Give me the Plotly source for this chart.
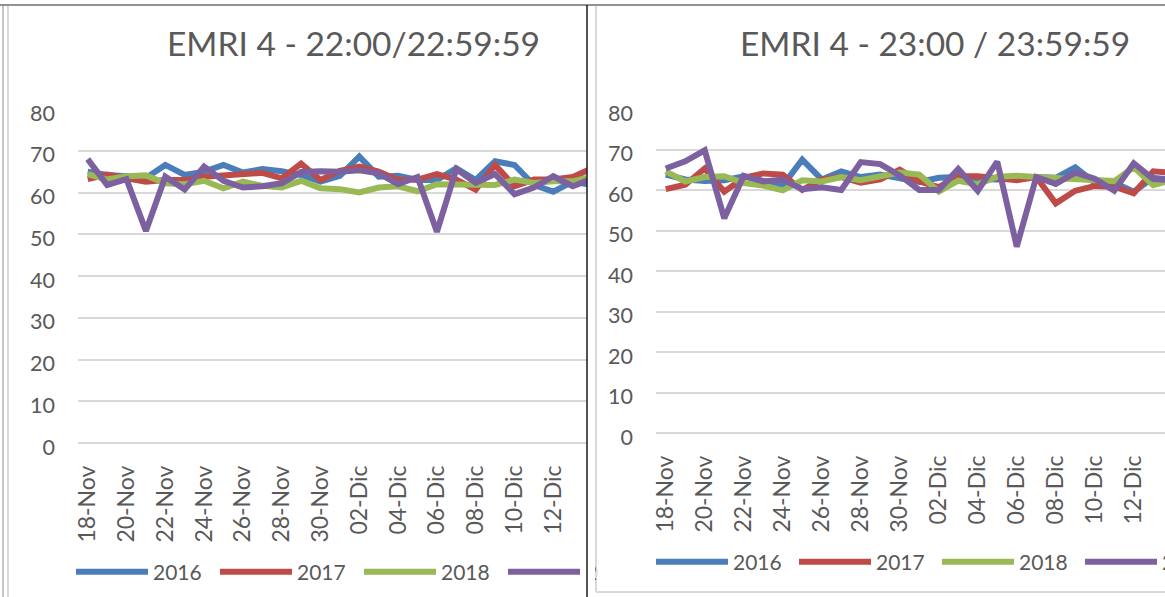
import plotly.graph_objects as go

W, H = 1165, 597

days = ["18-Nov", "19-Nov", "20-Nov", "21-Nov", "22-Nov", "23-Nov", "24-Nov", "25-Nov",
        "26-Nov", "27-Nov", "28-Nov", "29-Nov", "30-Nov", "01-Dic", "02-Dic", "03-Dic",
        "04-Dic", "05-Dic", "06-Dic", "07-Dic", "08-Dic", "09-Dic", "10-Dic", "11-Dic",
        "12-Dic", "13-Dic", "14-Dic"]
tick_labels = days[::2]
years = ["2016", "2017", "2018", "2019"]
colors = ["#4A7EBB", "#BE4B48", "#98B954", "#7D60A0"]

title_left = "EMRI 4 - 22:00/22:59:59"
title_right = "EMRI 4 - 23:00 / 23:59:59"

# 22:00 - 22:59:59
left_2016 = [65.0, 64.2, 63.9, 63.5, 66.6, 64.2, 65.0, 66.6, 64.8, 65.6, 65.1, 64.2, 62.6, 64.0,
             68.6, 63.8, 64.0, 63.0, 63.0, 65.8, 63.0, 67.5, 66.6, 61.8, 60.2, 62.6, 61.8]
left_2017 = [63.2, 64.3, 63.4, 62.6, 63.0, 63.0, 63.8, 64.2, 64.6, 64.7, 63.4, 66.9, 63.0, 65.2,
             66.2, 65.0, 63.0, 63.1, 64.4, 63.1, 60.7, 66.6, 61.5, 63.1, 63.1, 63.7, 65.8]
left_2018 = [64.4, 63.1, 63.9, 64.1, 62.2, 62.0, 62.8, 61.0, 62.6, 61.6, 61.2, 62.8, 61.0, 60.8,
             60.0, 61.2, 61.5, 60.3, 62.0, 62.0, 61.8, 61.8, 63.1, 62.3, 62.7, 62.7, 63.7]
left_2019 = [68.0, 61.8, 63.2, 50.8, 63.8, 60.7, 66.2, 62.8, 61.2, 61.5, 62.2, 64.9, 65.1, 65.0,
             65.3, 64.6, 62.0, 63.7, 50.6, 65.6, 62.3, 64.4, 59.6, 61.2, 63.9, 61.5, 63.3]

# 23:00 - 23:59:59
right_2016 = [63.8, 62.6, 62.2, 62.4, 63.4, 62.3, 61.1, 67.5, 62.6, 64.6, 63.2, 63.8, 63.0, 62.0,
              63.0, 63.2, 62.7, 62.6, 63.0, 63.2, 63.0, 65.6, 61.8, 61.8, 59.6, 63.0, 62.5]
right_2017 = [60.2, 61.3, 65.3, 59.6, 63.0, 64.1, 63.8, 60.0, 62.6, 63.2, 61.8, 62.6, 65.0, 62.1,
              60.7, 63.4, 63.4, 62.9, 62.4, 63.2, 56.7, 59.8, 61.0, 60.8, 59.2, 64.6, 64.2]
right_2018 = [64.6, 62.1, 63.2, 63.4, 61.7, 61.1, 59.9, 62.4, 62.1, 63.2, 62.4, 63.2, 64.3, 63.8,
              59.6, 62.3, 61.4, 63.3, 63.5, 63.2, 63.0, 62.8, 62.6, 62.2, 65.6, 61.2, 62.5]
right_2019 = [65.3, 67.1, 69.8, 53.0, 63.5, 62.1, 62.6, 60.2, 60.7, 60.0, 66.9, 66.4, 63.6, 60.0,
              60.0, 65.2, 59.8, 67.0, 46.0, 63.2, 61.5, 64.3, 62.8, 59.8, 66.6, 62.7, 62.4]

y_ticks = [0, 10, 20, 30, 40, 50, 60, 70, 80]

left_series = [left_2016, left_2017, left_2018, left_2019]
right_series = [right_2016, right_2017, right_2018, right_2019]


def px(x):
    return x / W


def py(y):
    return 1 - y / H


FONT = "Lato"
GREY = "#595959"

fig = go.Figure()
for name, col, vals in zip(years, colors, left_series):
    fig.add_trace(go.Scatter(x=days, y=vals, name=name, mode="lines",
                             line=dict(color=col, width=6), xaxis="x", yaxis="y",
                             legend="legend"))
for name, col, vals in zip(years, colors, right_series):
    fig.add_trace(go.Scatter(x=days, y=vals, name=name, mode="lines",
                             line=dict(color=col, width=6), xaxis="x2", yaxis="y2",
                             legend="legend2"))

xcommon = dict(type="category", categoryorder="array", categoryarray=days,
               tickmode="array", tickvals=tick_labels, ticktext=tick_labels,
               tickangle=-90, showgrid=False, zeroline=False, showline=False,
               ticks="", tickfont=dict(family=FONT, size=23, color=GREY),
               ticklabelstandoff=17, fixedrange=True)
ycommon = dict(range=[0, 80], tickmode="array", tickvals=y_ticks,
               showgrid=True, gridcolor="#D9D9D9", gridwidth=1.5,
               zeroline=True, zerolinecolor="#D9D9D9", zerolinewidth=1.5,
               showline=False, ticks="", ticklabelstandoff=22, ticklabelshift=4,
               tickfont=dict(family=FONT, size=21.5, color=GREY), fixedrange=True)

legcommon = dict(orientation="h", xanchor="left", yanchor="middle",
                 font=dict(family=FONT, size=21, color=GREY), itemwidth=72,
                 bgcolor="rgba(0,0,0,0)", traceorder="normal", borderwidth=0)

# white masks that reproduce the clipping of the left legend by the chart frame
mask = dict(text="", xref="paper", yref="paper", showarrow=False, xanchor="left",
            yanchor="middle", bgcolor="white", borderpad=0, borderwidth=0, height=30)

fig.update_layout(
    width=W, height=H,
    margin=dict(l=0, r=0, t=0, b=0, autoexpand=False),
    paper_bgcolor="white", plot_bgcolor="white",
    font=dict(family=FONT, color=GREY),
    showlegend=True,
    xaxis=dict(domain=[px(78), px(587)], range=[-0.5, -0.5 + (587 - 78) / 19.4],
               anchor="y", **xcommon),
    yaxis=dict(domain=[py(443), py(109)], anchor="x", **ycommon),
    xaxis2=dict(domain=[px(656), 1.0], range=[-0.5, -0.5 + (1165 - 656) / 19.5],
                anchor="y2", **xcommon),
    yaxis2=dict(domain=[py(433), py(109)], anchor="x2", **ycommon),
    legend=dict(x=px(71), y=py(572), entrywidth=57, **legcommon),
    legend2=dict(x=px(651), y=py(562), entrywidth=56, **legcommon),
    annotations=[
        dict(text=title_left, x=px(353), y=py(43), xref="paper", yref="paper",
             showarrow=False, xanchor="center", yanchor="middle",
             font=dict(family=FONT, size=33.5, color=GREY)),
        dict(text=title_right, x=px(935), y=py(43), xref="paper", yref="paper",
             showarrow=False, xanchor="center", yanchor="middle",
             font=dict(family=FONT, size=33.5, color=GREY)),
        dict(x=px(588), y=py(573), width=7, **mask),
        dict(x=px(597.5), y=py(573), width=55, **mask),
    ],
    shapes=[
        dict(type="line", xref="paper", yref="paper", x0=0, x1=1, y0=py(5), y1=py(5),
             line=dict(color="#6E6E6E", width=1.5)),
        dict(type="line", xref="paper", yref="paper", x0=px(3), x1=px(3), y0=0, y1=py(5),
             line=dict(color="#8C8C8C", width=1)),
        dict(type="line", xref="paper", yref="paper", x0=px(8), x1=px(8), y0=0, y1=py(6),
             line=dict(color="#D9D9D9", width=2)),
        dict(type="line", xref="paper", yref="paper", x0=px(587), x1=px(587), y0=0, y1=py(5),
             line=dict(color="#1A1A1A", width=1.5)),
        dict(type="line", xref="paper", yref="paper", x0=px(596), x1=px(596), y0=py(592), y1=py(6),
             line=dict(color="#D9D9D9", width=2)),
        dict(type="line", xref="paper", yref="paper", x0=px(596), x1=1, y0=py(592), y1=py(592),
             line=dict(color="#D9D9D9", width=2)),
    ],
)

fig.write_html("out.html", post_script="document.body.style.margin='0';",
               config={"displayModeBar": False})
